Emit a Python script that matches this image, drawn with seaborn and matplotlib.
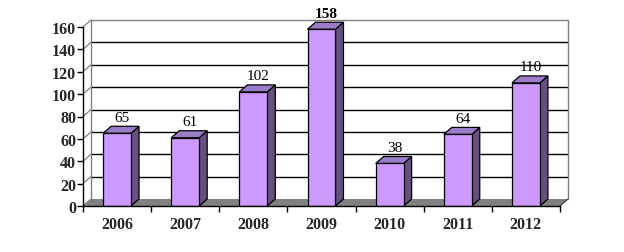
import matplotlib
matplotlib.use("Agg")
import matplotlib.pyplot as plt
import seaborn as sns
import pandas as pd
from matplotlib.patches import Polygon

years = ["2006", "2007", "2008", "2009", "2010", "2011", "2012"]
values = [65, 61, 102, 158, 38, 64, 110]
yticks = [0, 20, 40, 60, 80, 100, 120, 140, 160]

df = pd.DataFrame({"year": years, "value": values})

sns.set_theme(style="white")
plt.rcParams["font.family"] = ["Liberation Serif", "DejaVu Serif"]

W, H = 624, 253
fig = plt.figure(figsize=(W / 100, H / 100), dpi=100)
left_px, right_px, bot_px, top_px = 83, 560, 207, 28
ax = fig.add_axes([left_px / W, 1 - bot_px / H, (right_px - left_px) / W, (bot_px - top_px) / H])

front = "#CC99FF"
side = "#665080"
topc = "#9A7CC8"

sns.barplot(data=df, x="year", y="value", color=front, edgecolor="black",
            linewidth=0.9, width=0.41, saturation=1, ax=ax, zorder=3)
ax.set_xlim(-0.5, 6.5)
ax.set_ylim(0, 160)

# depth offset in data units (8 px right, 7 px up)
xpx = (right_px - left_px) / 7.0
ypx = (bot_px - top_px) / 160.0
dx = 8 / xpx
dy = 7 / ypx

# floor
ax.add_patch(Polygon([(-0.5, 0), (6.5, 0), (6.5 + dx, dy), (-0.5 + dx, dy)],
                     closed=True, facecolor="#808080", edgecolor="none", zorder=1, clip_on=False))
# back wall gridlines
for v in yticks[1:]:
    col = "#808080" if v == 160 else "black"
    ax.plot([-0.5 + dx, 6.5 + dx], [v + dy, v + dy], color=col, lw=1.0, zorder=0.5, clip_on=False)
# back wall edges
ax.plot([-0.5 + dx, -0.5 + dx], [dy, 160 + dy], color="#808080", lw=1.0, zorder=0.6, clip_on=False)
ax.plot([6.5 + dx, 6.5 + dx], [dy, 160 + dy], color="#808080", lw=1.0, zorder=0.6, clip_on=False)
# side wall diagonals
for v in yticks:
    ax.plot([-0.5, -0.5 + dx], [v, v + dy], color="#808080", lw=0.9, zorder=0.6, clip_on=False)
ax.plot([6.5, 6.5 + dx], [0, dy], color="#404040", lw=0.9, zorder=1.2, clip_on=False)

# 3D faces of bars
for p, v in zip(ax.patches, values):
    x0 = p.get_x()
    x1 = x0 + p.get_width()
    h = p.get_height()
    ax.add_patch(Polygon([(x1, 0), (x1 + dx, dy), (x1 + dx, h + dy), (x1, h)], closed=True,
                         facecolor=side, edgecolor="black", lw=0.9, zorder=2.5, clip_on=False))
    ax.add_patch(Polygon([(x0, h), (x1, h), (x1 + dx, h + dy), (x0 + dx, h + dy)], closed=True,
                         facecolor=topc, edgecolor="black", lw=0.9, zorder=2.5, clip_on=False))
    ax.annotate(str(v), (p.get_x() + p.get_width() / 2 + dx * 0.6, h + dy), xytext=(0, 4),
                textcoords="offset points", ha="center", va="baseline", fontsize=11,
                fontweight="bold" if v == max(values) else "normal", color="black",
                annotation_clip=False)

# axes
for s in ["top", "right"]:
    ax.spines[s].set_visible(False)
ax.spines["left"].set_color("black")
ax.spines["bottom"].set_color("black")
ax.spines["left"].set_linewidth(1.0)
ax.spines["bottom"].set_linewidth(1.0)
ax.spines["left"].set_zorder(4)
ax.spines["bottom"].set_zorder(4)
ax.set_yticks(yticks)
ax.set_yticklabels([str(t) for t in yticks], fontsize=11.5, fontweight="bold")
ax.tick_params(axis="y", left=True, length=4, width=1, color="black", pad=1)
ax.set_xticks(range(len(years)))
ax.set_xticklabels(years, fontsize=11.5, fontweight="bold")
ax.set_xticks([i - 0.5 for i in range(len(years) + 1)], minor=True)
ax.tick_params(axis="x", which="major", bottom=False, length=0, pad=7)
ax.tick_params(axis="x", which="minor", bottom=True, length=4, width=1, color="black")
ax.set_xlabel("")
ax.set_ylabel("")
ax.set_facecolor("white")
ax.patch.set_alpha(0)

fig.savefig("out.png", dpi=100)
